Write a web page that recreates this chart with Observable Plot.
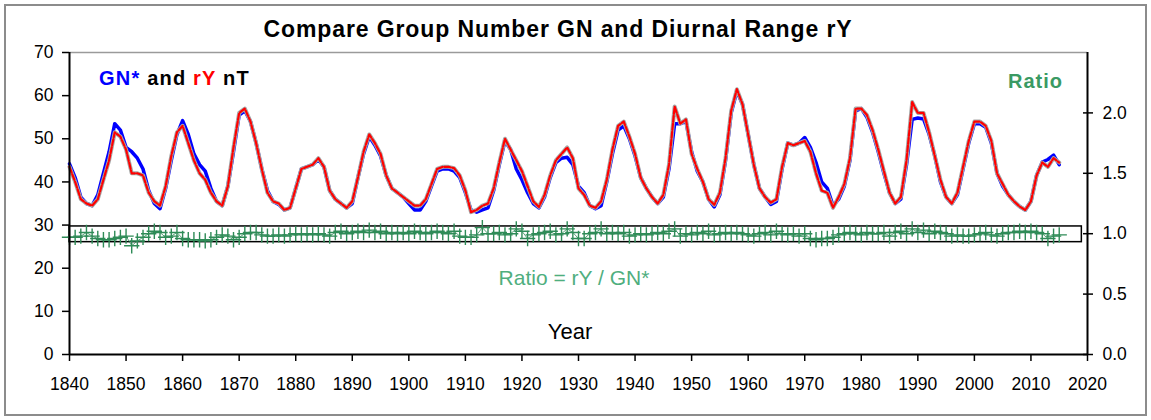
<!DOCTYPE html>
<html><head><meta charset="utf-8">
<script src="https://cdn.jsdelivr.net/npm/d3@7"></script>
<script src="https://cdn.jsdelivr.net/npm/@observablehq/plot@0.6"></script>
<style>
body{margin:0;background:#fff;}
#wrap{position:relative;width:1151px;height:420px;overflow:hidden;font-family:"Liberation Sans",Arial,sans-serif;}
#frame{position:absolute;left:4px;top:4px;width:1139px;height:408px;border:2px solid #8c8c8c;pointer-events:none;}
</style></head><body><div id="wrap"><div id="frame"></div></div>
<script>
// ---- data ----
const years = d3.range(1840, 2016);
const gn = [
44.2,41,36.5,35,34.5,37,42,47,53.5,52,
48,47,45.5,43,38,35,33.8,38.5,45,51,
54.2,51,46.5,44,42.5,38.5,35.5,34.5,39,47,
55.5,56.5,54,49,43,38,35.5,34.8,33.5,34,
38.5,43,43.5,44,45.2,43.5,38,36,35,34,
35,41,46.5,50.5,48.5,46,41.5,38.5,37.5,36.5,
35,33.5,33.5,35.5,39,42.5,43,43,42.5,41,
37.5,33.5,33,33.5,34,38,44,49.5,47.5,43,
40.5,37.5,35,34,36.5,41,44.5,45.5,45.7,44,
39,37.5,34.5,33.8,34.5,40,46.5,52,53,50,
46,41,38.5,36.5,35,36.5,43,53.5,53.5,54,
47,42.5,40,36,34.2,37,45,56,61,58,
51,44,38.5,36.5,34.8,35.5,43,49,48.5,49,
50.3,48,44.5,40,38.5,34.5,36,39,45,56.5,
57,55,51.5,47,42,37.5,35,36,44,54.5,
54.8,54.6,51,46,40,36.5,35,37,43,49,
53.5,53.5,52.7,49,42,39,37,35.5,34.3,33.5,
35.5,41.5,44.6,45.2,46.2,44];
const ry = [
43.5,40,36,35,34.5,36,40.5,45,51.5,50.5,
47.5,42,42,41.5,37.5,35.5,34.5,39,46,51.5,
53,49,45,42,40.5,37.5,35.5,34.5,39,48,
56,57,54,49,43,37.5,35.5,35,33.5,34,
38.5,43,43.5,44,45.5,43.5,38,36,35,34,
35.5,41,47,51,49,46.5,41.5,38.5,37.5,36.5,
35.5,34.5,34.5,36,39.5,43,43.5,43.5,43.2,41.5,
38,33,33.5,34.5,35,38.5,44.5,50,47.5,45,
42.5,39,35.5,34.2,37,41.5,45,46.5,48,45.5,
38.5,37,34.5,34,35.5,40.5,47.5,53,54,50.5,
46.5,41,38.5,36.5,35,37,44,57.5,53.5,54.5,
46.5,43,40,36,34.7,37.5,45.5,56.5,61.5,58,
51,44,38.5,36.5,35.2,36,43.5,49,48.5,49,
49.5,47,42,38,37.5,34,36.5,39.5,45.5,57,
57,55.5,52,47.5,42.5,37.5,35,36.5,45,58.5,
56,56,51.5,46,40.5,36.5,35,37.5,43.5,49.5,
54,54,53,49.5,42,39.5,37,35.5,34.3,33.5,
35.5,41.5,44.5,43.5,45.5,44.5];
const ratio = [
0.97,0.97,0.98,1.01,0.98,0.96,0.95,0.95,0.96,0.97,
0.98,0.90,0.94,0.97,1.00,1.02,1.01,0.97,0.98,1.01,
0.96,0.95,0.95,0.95,0.94,0.95,0.97,0.99,0.98,0.95,
0.97,1.00,1.01,1.01,0.99,0.98,0.98,0.99,0.98,0.99,
1.00,0.99,1.00,0.99,1.00,0.99,0.98,1.01,1.02,1.00,
1.01,1.02,1.01,1.03,1.01,1.02,1.00,1.01,1.00,1.01,
1.00,1.02,1.01,1.00,1.01,1.02,1.01,1.00,1.02,0.98,
0.97,0.97,0.99,1.05,1.00,1.00,1.01,0.99,1.00,1.04,
1.02,0.96,0.99,1.00,1.01,1.02,0.99,1.00,1.04,1.01,
0.96,0.96,1.00,1.01,1.04,1.00,1.01,1.00,1.01,0.98,
0.99,1.00,0.99,1.00,1.01,1.00,1.02,1.04,0.98,1.00,
0.99,1.01,1.00,1.02,0.99,1.00,1.01,1.00,1.01,1.00,
0.99,0.98,1.00,1.01,0.99,1.02,1.00,0.99,1.00,0.98,
1.00,0.96,0.95,0.96,0.96,0.97,0.99,1.00,1.01,1.00,
0.99,1.01,1.00,1.00,1.01,0.98,1.01,1.02,1.00,1.04,
1.01,1.03,1.00,1.02,1.01,1.00,0.98,0.99,0.98,0.98,
0.99,1.00,1.01,0.99,0.98,1.00,1.01,1.01,1.02,1.01,
1.02,1.01,1.00,0.96,0.98,0.99];
const xTicks = [1840,1850,1860,1870,1880,1890,1900,1910,1920,1930,1940,1950,1960,1970,1980,1990,2000,2010,2020];
const yTicks = [0,10,20,30,40,50,60,70];
const ratioTicks = [0,0.5,1,1.5,2];
const ratioBox = {from: 1840, to: 2019, low: 0.93, high: 1.06};

// left axis 0..70 corresponds to right axis 0..2.5
const K = 70 / 2.5;
const rows = years.map((y, i) => ({year: y, gn: gn[i], ry: ry[i], ratio: ratio[i]}));

const green = "#2e8b57";
const chart = Plot.plot({
  width: 1151, height: 420,
  marginLeft: 69, marginRight: 64, marginTop: 52, marginBottom: 66,
  style: {fontFamily: "'Liberation Sans', Arial, sans-serif", color: "#000", background: "transparent"},
  x: {domain: [1840, 2020]},
  y: {domain: [0, 70]},
  marks: [
    Plot.ruleY([70], {stroke: "#9a9a9a", strokeWidth: 1.5}),
    Plot.rect([ratioBox], {x1: "from", x2: "to", y1: d => d.low * K, y2: d => d.high * K, fill: "none", stroke: "#000", strokeWidth: 1.5}),
    Plot.line(rows, {x: "year", y: d => d.ratio * K, stroke: green, strokeWidth: 0.8}),
    Plot.dot(rows, {x: "year", y: d => d.ratio * K, symbol: "plus", r: 5, stroke: green, strokeWidth: 1.4}),
    Plot.line(rows, {x: "year", y: "gn", stroke: "#0000ff", strokeWidth: 3.5}),
    Plot.line(rows, {x: "year", y: "ry", stroke: "#a8a8a8", strokeWidth: 4}),
    Plot.line(rows, {x: "year", y: "ry", stroke: "#ff0000", strokeWidth: 2.2, strokeDasharray: "6,2"}),
    Plot.axisX({ticks: xTicks, tickFormat: d => String(d), tickSize: 7, tickPadding: 16, fontSize: 17.5, strokeWidth: 1.5, label: null}),
    Plot.axisY({ticks: yTicks, tickSize: 7, tickPadding: 9, fontSize: 17.5, strokeWidth: 1.5, label: null}),
    Plot.axisY({anchor: "right", ticks: ratioTicks.map(v => v * K), tickFormat: d => (d / K).toFixed(1), tickSize: 5, tickPadding: 10, fontSize: 17.5, strokeWidth: 1.5, label: null}),
    Plot.axisY({anchor: "right", ticks: ratioTicks.map(v => v * K), tickFormat: () => "", tickSize: -5, strokeWidth: 1.5, label: null}),
    Plot.ruleY([0], {stroke: "#000", strokeWidth: 2}),
    Plot.ruleX([1840], {stroke: "#000", strokeWidth: 2}),
    Plot.ruleX([2020], {stroke: "#000", strokeWidth: 2})
  ]
});
document.getElementById("wrap").appendChild(chart);

// annotations
const svg = d3.select(chart);
const ff = "'Liberation Sans', Arial, sans-serif";
svg.append("text").attr("x", 558).attr("y", 37).attr("text-anchor", "middle")
  .attr("font-family", ff).attr("font-size", 23).attr("font-weight", "bold").attr("fill", "#000")
  .attr("letter-spacing", "0.9px")
  .text("Compare Group Number GN and Diurnal Range rY");
const leg = svg.append("text").attr("x", 99).attr("y", 85).attr("text-anchor", "start")
  .attr("font-family", ff).attr("font-size", 20).attr("font-weight", "bold").attr("letter-spacing", "1.2px");
leg.append("tspan").attr("fill", "#0000ff").text("GN*");
leg.append("tspan").attr("fill", "#000").text(" and ");
leg.append("tspan").attr("fill", "#ff0000").text("rY");
leg.append("tspan").attr("fill", "#000").text(" nT");
svg.append("text").attr("x", 1063).attr("y", 88).attr("text-anchor", "end")
  .attr("font-family", ff).attr("font-size", 20).attr("font-weight", "bold").attr("fill", "#3a9a63")
  .attr("letter-spacing", "1px")
  .text("Ratio");
svg.append("text").attr("x", 574).attr("y", 285).attr("text-anchor", "middle")
  .attr("font-family", ff).attr("font-size", 21).attr("fill", "#4fae7e")
  .text("Ratio = rY / GN*");
svg.append("text").attr("x", 570).attr("y", 339).attr("text-anchor", "middle")
  .attr("font-family", ff).attr("font-size", 22).attr("fill", "#000")
  .text("Year");
</script>
</body></html>
